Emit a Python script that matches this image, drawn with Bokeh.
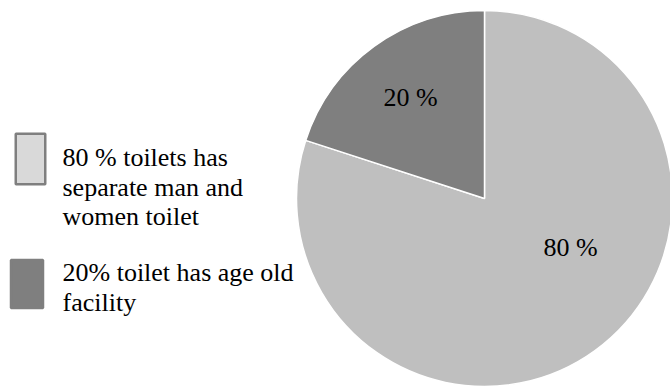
import math
from bokeh.plotting import figure
from bokeh.models import Range1d, ColumnDataSource
from bokeh.core.properties import value
from bokeh.embed import file_html
from bokeh.resources import INLINE

# ---- data ----
categories = ["80 % toilets has separate man and women toilet",
              "20% toilet has age old facility"]
shares = [80, 20]
slice_labels = ["80 %", "20 %"]
legend_lines = [["80 % toilets has", "separate man and", "women toilet"],
                ["20% toilet has age old", "facility"]]

# ---- styles ----
slice_colors = ["#bfbfbf", "#7f7f7f"]
legend_fill = ["#d9d9d9", "#7f7f7f"]
legend_line = ["#7f7f7f", "#7f7f7f"]
FONT = value("Liberation Serif")

W, H = 670, 387
p = figure(width=W, height=H, output_backend="svg", toolbar_location=None,
           x_range=Range1d(0, W), y_range=Range1d(0, H),
           min_border=0, min_border_left=0, min_border_right=0,
           min_border_top=0, min_border_bottom=0)
p.axis.visible = False
p.grid.visible = False
p.outline_line_color = None
p.background_fill_color = "white"
p.border_fill_color = "white"

cx, cy, r = 484, H - 198, 188

total = sum(shares)
start = math.pi / 2
starts, ends = [0, 0], [0, 0]
a = start
for i in [1, 0]:
    starts[i] = a
    a += shares[i] / total * 2 * math.pi
    ends[i] = a

src = ColumnDataSource(dict(x=[cx, cx], y=[cy, cy], s=starts, e=ends, c=slice_colors))
p.wedge(x="x", y="y", radius=r, start_angle="s", end_angle="e", fill_color="c",
        line_color="white", line_width=1.5, source=src)

lab_x = [570, 410]
lab_y = [H - 247, H - 97]
p.text(x=lab_x, y=lab_y, text=slice_labels, text_font=FONT, text_font_size="26px",
       text_align="center", text_baseline="middle", text_color="#000000")

box_x = [30, 26.5]
box_y = [H - 158.5, H - 283.5]
box_w = [29.5, 32]
box_h = [50.5, 48]
p.rect(x=box_x, y=box_y, width=box_w, height=box_h, fill_color=legend_fill,
       line_color=legend_line, line_width=2.5)
line_h = 29.5
tx, ty = [], []
starts_y = [157, 272]
for k, lines in enumerate(legend_lines):
    for j, ln in enumerate(lines):
        tx.append(62)
        ty.append(H - (starts_y[k] + j * line_h))
flat = [ln for lines in legend_lines for ln in lines]
p.text(x=tx, y=ty, text=flat, text_font=FONT, text_font_size="26px",
       text_align="left", text_baseline="middle", text_color="#000000")

open("out.html", "w").write(file_html(p, INLINE))
